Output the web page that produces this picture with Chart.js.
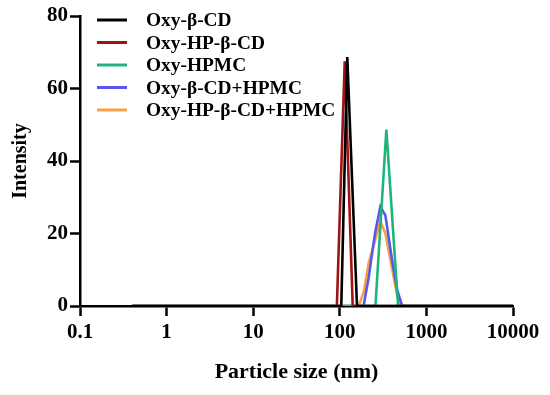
<!DOCTYPE html>
<html>
<head>
<meta charset="utf-8">
<script src="https://cdn.jsdelivr.net/npm/chart.js@4/dist/chart.umd.min.js"></script>
<style>
  html, body { margin: 0; padding: 0; background: #fff; }
  #wrap { width: 550px; height: 395px; position: relative; }
</style>
</head>
<body>
<div id="wrap"><canvas id="c" width="550" height="395"></canvas></div>
<script>
// ---- data ----
const seriesNames = ['Oxy-β-CD', 'Oxy-HP-β-CD', 'Oxy-HPMC', 'Oxy-β-CD+HPMC', 'Oxy-HP-β-CD+HPMC'];
const seriesColors = ['#000000', '#9e1414', '#1fb57a', '#5757ec', '#f7a144'];

const betaCD_size = [0.4, 104, 122, 158, 10000];
const betaCD_int  = [0,   0,   68.7, 0,  0];

const hpBetaCD_size = [0.4, 92.5, 114, 141, 10000];
const hpBetaCD_int  = [0,   0,    67.5, 0,  0];

const hpmc_size = [0.4, 258, 345, 471, 10000];
const hpmc_int  = [0,   0,   48.7, 0,  0];

const betaCDHpmc_size = [0.4, 188, 216, 236, 255, 294, 336, 401, 460, 525, 10000];
const betaCDHpmc_int  = [0,   0,   8,   14.5, 20, 27.4, 25,  12.7, 4.4, 0,  0];

const hpBetaCDHpmc_size = [0.4, 165, 190, 216, 255, 294, 336, 396, 459, 510, 10000];
const hpBetaCDHpmc_int  = [0,   0,   4,   12,  18,  23.3, 20,  11,  3,   0,   0];

const xTickValues = [0.1, 1, 10, 100, 1000, 10000];
const xTickLabels = ['0.1', '1', '10', '100', '1000', '10000'];
const yTickValues = [0, 20, 40, 60, 80];

const xTitle = 'Particle size (nm)';
const yTitle = 'Intensity';

// ---- build datasets ----
function pts(xs, ys) { return xs.map((x, i) => ({ x: x, y: ys[i] })); }
const allSeries = [
  pts(betaCD_size, betaCD_int),
  pts(hpBetaCD_size, hpBetaCD_int),
  pts(hpmc_size, hpmc_int),
  pts(betaCDHpmc_size, betaCDHpmc_int),
  pts(hpBetaCDHpmc_size, hpBetaCDHpmc_int)
];
const datasets = allSeries.map((d, i) => ({
  label: seriesNames[i],
  data: d,
  borderColor: seriesColors[i],
  backgroundColor: seriesColors[i],
  borderWidth: 2.6,
  pointRadius: 0,
  tension: 0,
  fill: false,
  order: i
}));

const FONT = '"Liberation Serif", "Times New Roman", serif';

const legendPlugin = {
  id: 'insideLegend',
  afterDraw(chart) {
    const ctx = chart.ctx;
    ctx.save();
    ctx.font = 'bold 19.4px ' + FONT;
    ctx.textBaseline = 'middle';
    ctx.textAlign = 'left';
    const x0 = 97, x1 = 127, tx = 146, y0 = 20, dy = 22.5;
    seriesNames.forEach((name, i) => {
      const y = y0 + i * dy;
      ctx.strokeStyle = seriesColors[i];
      ctx.lineWidth = 3;
      ctx.beginPath();
      ctx.moveTo(x0, y);
      ctx.lineTo(x1, y);
      ctx.stroke();
      ctx.fillStyle = '#000';
      ctx.fillText(name, tx, y + 1);
    });
    ctx.restore();
  }
};

new Chart(document.getElementById('c'), {
  type: 'line',
  data: { datasets: datasets },
  plugins: [legendPlugin],
  options: {
    responsive: false,
    animation: false,
    devicePixelRatio: 1,
    layout: { padding: { top: 16, right: 37, bottom: 0, left: 0 } },
    plugins: { legend: { display: false }, tooltip: { enabled: false } },
    scales: {
      x: {
        type: 'logarithmic',
        min: 0.1,
        max: 10000,
        afterBuildTicks(scale) { scale.ticks = xTickValues.map(v => ({ value: v })); },
        afterFit(scale) { scale.height = 89; },
        ticks: {
          autoSkip: false,
          maxRotation: 0,
          color: '#000',
          padding: 4,
          font: { family: FONT, size: 21, weight: 'bold' },
          callback(value) {
            const i = xTickValues.indexOf(value);
            return i >= 0 ? xTickLabels[i] : '';
          }
        },
        grid: { drawOnChartArea: false, drawTicks: true, tickLength: 10, tickWidth: 2.5, tickColor: '#000' },
        border: { display: true, color: '#000', width: 2.5 },
        title: {
          display: true, text: xTitle, color: '#000',
          font: { family: FONT, size: 22, weight: 'bold' },
          padding: { top: 0, bottom: 9 }
        }
      },
      y: {
        type: 'linear',
        min: 0,
        max: 80,
        afterBuildTicks(scale) { scale.ticks = yTickValues.map(v => ({ value: v })); },
        afterFit(scale) { scale.width = 80; },
        ticks: {
          color: '#000',
          padding: 2,
          font: { family: FONT, size: 21, weight: 'bold' }
        },
        grid: { drawOnChartArea: false, drawTicks: true, tickLength: 10, tickWidth: 2.5, tickColor: '#000' },
        border: { display: true, color: '#000', width: 2.5 },
        title: {
          display: true, text: yTitle, color: '#000',
          font: { family: FONT, size: 20, weight: 'bold' },
          padding: { top: 9, bottom: 0 }
        }
      }
    }
  }
});
</script>
</body>
</html>
